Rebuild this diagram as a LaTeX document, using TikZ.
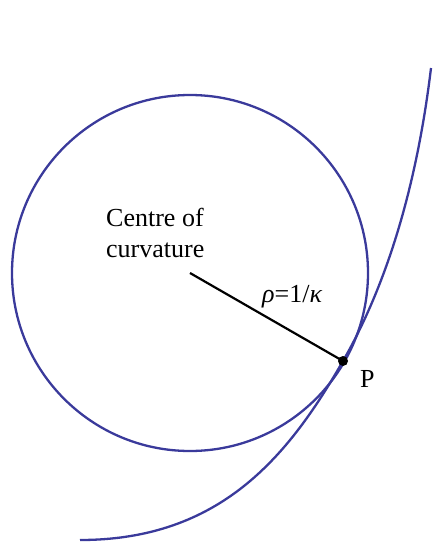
\documentclass[tikz,border=0pt]{standalone}
\usepackage{fontspec}
\setmainfont{Liberation Serif}
\definecolor{curveblue}{RGB}{58,58,155}
\tikzset{
  curveline/.style={draw=curveblue, line width=2.3pt},
  radiusline/.style={draw=black, line width=2.2pt},
  lbl/.style={font=\fontsize{26}{31}\selectfont, inner sep=0pt}
}
\begin{document}
\begin{tikzpicture}[x=1pt, y=-1pt]
\useasboundingbox (0,0) rectangle (432,544);
\coordinate (C) at (190,273);
\coordinate (P) at (343,361);
\coordinate (S) at (80,540);
\coordinate (E) at (431,68);
% osculating circle
\draw[curveline] (C) circle[radius=178];
% curve
\draw[curveline] (S) .. controls (220,540) and (288,457) .. (P)
  .. controls (393,274) and (419,168) .. (E);
% radius
\draw[radiusline] (C) -- (P);
\fill (P) circle[radius=5];
% labels
\node[lbl, anchor=base west, align=left] (ctxt) at (106,257) {Centre of\\curvature};
\node[lbl, anchor=base west] (rho) at (262,302) {\textit{ρ}=1/\textit{κ}};
\node[lbl, anchor=base west] (ptxt) at (360,387) {P};
\end{tikzpicture}
\end{document}
